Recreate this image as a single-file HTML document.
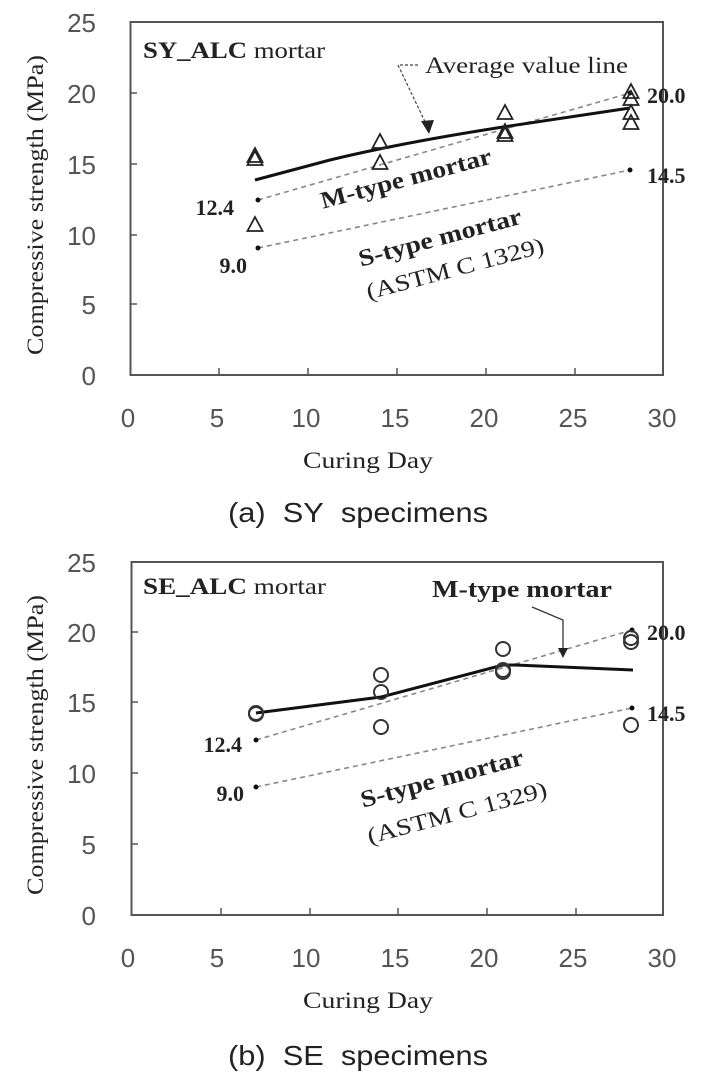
<!DOCTYPE html>
<html><head><meta charset="utf-8"><style>
body{margin:0;background:#fff}
svg{display:block}
.t{font-family:"Liberation Sans",sans-serif;fill:#555;font-size:26px}
.s{font-family:"Liberation Serif",serif;fill:#222}
.b{font-weight:bold}
</style></head><body>
<svg width="702" height="1082" viewBox="0 0 702 1082">
<defs>
<g id="tri"><path d="M0,-9 L7.5,5 L-7.5,5 Z" fill="none" stroke="#222" stroke-width="1.8"/></g>
<g id="cir"><circle r="7" fill="none" stroke="#333" stroke-width="2"/></g>
</defs>

<!-- ===== Chart A ===== -->
<g>
<rect x="130.5" y="22" width="532.5" height="353" fill="none" stroke="#555" stroke-width="2"/>
<g stroke="#555" stroke-width="1.5">
<line x1="130.5" y1="93" x2="137" y2="93"/><line x1="130.5" y1="164" x2="137" y2="164"/>
<line x1="130.5" y1="235" x2="137" y2="235"/><line x1="130.5" y1="304" x2="137" y2="304"/>
<line x1="219" y1="375" x2="219" y2="368"/><line x1="308" y1="375" x2="308" y2="368"/>
<line x1="397" y1="375" x2="397" y2="368"/><line x1="486" y1="375" x2="486" y2="368"/>
<line x1="575" y1="375" x2="575" y2="368"/>
</g>
<g class="t" text-anchor="end">
<text x="96" y="32">25</text><text x="96" y="103">20</text><text x="96" y="174">15</text>
<text x="96" y="245">10</text><text x="96" y="314">5</text><text x="96" y="385">0</text>
</g>
<g class="t" text-anchor="middle">
<text x="128" y="427">0</text><text x="217" y="427">5</text><text x="306" y="427">10</text>
<text x="395" y="427">15</text><text x="484" y="427">20</text><text x="573" y="427">25</text><text x="662" y="427">30</text>
</g>
<text class="s" x="303" y="468" font-size="23" textLength="130" lengthAdjust="spacingAndGlyphs">Curing Day</text>
<text class="s" transform="translate(43,205) rotate(-90)" font-size="23" text-anchor="middle" textLength="300" lengthAdjust="spacingAndGlyphs">Compressive strength (MPa)</text>
<text x="228" y="522" textLength="260" lengthAdjust="spacingAndGlyphs" style="font-family:'Liberation Sans',sans-serif;font-size:28px;fill:#222">(a)&#160; SY&#160; specimens</text>

<g stroke="#888" stroke-width="1.6" stroke-dasharray="5,4">
<line x1="258" y1="200" x2="630" y2="93"/><line x1="258" y1="248" x2="630" y2="170"/>
</g>
<g fill="#111"><circle cx="258" cy="200" r="2.5"/><circle cx="258" cy="248" r="2.5"/><circle cx="630" cy="93" r="2.5"/><circle cx="630" cy="170" r="2.5"/></g>
<path d="M255,180 L330,160 Q400,143 503,127 L630,108" fill="none" stroke="#111" stroke-width="3"/>
<use href="#tri" x="255" y="160"/><use href="#tri" x="255" y="157"/><use href="#tri" x="255" y="226"/>
<use href="#tri" x="380" y="143"/><use href="#tri" x="380" y="164"/>
<use href="#tri" x="505" y="114"/><use href="#tri" x="505" y="133"/><use href="#tri" x="505" y="136"/>
<use href="#tri" x="631" y="93"/><use href="#tri" x="631" y="100"/><use href="#tri" x="631" y="114"/><use href="#tri" x="631" y="124"/>
<text class="s" x="143" y="58" font-size="23" textLength="182" lengthAdjust="spacingAndGlyphs"><tspan class="b">SY_ALC</tspan> mortar</text>
<text class="s" x="425" y="73" font-size="23" textLength="203" lengthAdjust="spacingAndGlyphs">Average value line</text>
<path d="M418,65 L398,65 L428,128" fill="none" stroke="#444" stroke-width="1.2" stroke-dasharray="3,2"/>
<path d="M429,134 L421,121 L434,120 Z" fill="#222"/>
<text class="s b" x="234" y="215" font-size="22" text-anchor="end">12.4</text>
<text class="s b" x="247" y="273" font-size="22" text-anchor="end">9.0</text>
<text class="s b" x="647" y="103" font-size="22">20.0</text>
<text class="s b" x="647" y="183" font-size="22">14.5</text>
<text class="s b" transform="translate(408,186) rotate(-15)" font-size="24" text-anchor="middle" textLength="176" lengthAdjust="spacingAndGlyphs">M-type mortar</text>
<text class="s b" transform="translate(442,245) rotate(-15)" font-size="24" text-anchor="middle" textLength="168" lengthAdjust="spacingAndGlyphs">S-type mortar</text>
<text class="s" transform="translate(457,276) rotate(-15)" font-size="23" text-anchor="middle" fill="#444" textLength="183" lengthAdjust="spacingAndGlyphs">(ASTM C 1329)</text>
</g>

<!-- ===== Chart B ===== -->
<g>
<rect x="131.5" y="562" width="531.5" height="353" fill="none" stroke="#555" stroke-width="2"/>
<g stroke="#555" stroke-width="1.5">
<line x1="131.5" y1="632" x2="138" y2="632"/><line x1="131.5" y1="702" x2="138" y2="702"/>
<line x1="131.5" y1="773" x2="138" y2="773"/><line x1="131.5" y1="844" x2="138" y2="844"/>
<line x1="221" y1="915" x2="221" y2="908"/><line x1="310" y1="915" x2="310" y2="908"/>
<line x1="398" y1="915" x2="398" y2="908"/><line x1="487" y1="915" x2="487" y2="908"/>
<line x1="576" y1="915" x2="576" y2="908"/>
</g>
<g class="t" text-anchor="end">
<text x="96" y="572">25</text><text x="96" y="642">20</text><text x="96" y="712">15</text>
<text x="96" y="783">10</text><text x="96" y="854">5</text><text x="96" y="925">0</text>
</g>
<g class="t" text-anchor="middle">
<text x="128" y="967">0</text><text x="217" y="967">5</text><text x="306" y="967">10</text>
<text x="395" y="967">15</text><text x="484" y="967">20</text><text x="573" y="967">25</text><text x="662" y="967">30</text>
</g>
<text class="s" x="303" y="1008" font-size="23" textLength="130" lengthAdjust="spacingAndGlyphs">Curing Day</text>
<text class="s" transform="translate(43,745) rotate(-90)" font-size="23" text-anchor="middle" textLength="300" lengthAdjust="spacingAndGlyphs">Compressive strength (MPa)</text>
<text x="228" y="1065" textLength="260" lengthAdjust="spacingAndGlyphs" style="font-family:'Liberation Sans',sans-serif;font-size:28px;fill:#222">(b)&#160; SE&#160; specimens</text>

<g stroke="#888" stroke-width="1.6" stroke-dasharray="5,4">
<line x1="256" y1="740" x2="632" y2="630"/><line x1="256" y1="787" x2="632" y2="708"/>
</g>
<g fill="#111"><circle cx="256" cy="740" r="2.5"/><circle cx="256" cy="787" r="2.5"/><circle cx="632" cy="630" r="2.5"/><circle cx="632" cy="708" r="2.5"/></g>
<path d="M256,713 L381,697 L503,665 L515,665 L633,670" fill="none" stroke="#111" stroke-width="3"/>
<use href="#cir" x="256" y="714"/><use href="#cir" x="256" y="713"/>
<use href="#cir" x="381" y="675"/><use href="#cir" x="381" y="692"/><use href="#cir" x="381" y="727"/>
<use href="#cir" x="503" y="649"/><use href="#cir" x="503" y="670"/><use href="#cir" x="503" y="672"/>
<use href="#cir" x="631" y="638"/><use href="#cir" x="631" y="642"/><use href="#cir" x="631" y="725"/>
<text class="s" x="143" y="594" font-size="23" textLength="183" lengthAdjust="spacingAndGlyphs"><tspan class="b">SE_ALC</tspan> mortar</text>
<text class="s b" x="432" y="597" font-size="24" textLength="180" lengthAdjust="spacingAndGlyphs">M-type mortar</text>
<path d="M532,607 L563,620 L563,650" fill="none" stroke="#333" stroke-width="1.3"/>
<path d="M563,658 L558,648 L568,648 Z" fill="#222"/>
<text class="s b" x="242" y="752" font-size="22" text-anchor="end">12.4</text>
<text class="s b" x="244" y="801" font-size="22" text-anchor="end">9.0</text>
<text class="s b" x="647" y="640" font-size="22">20.0</text>
<text class="s b" x="647" y="721" font-size="22">14.5</text>
<text class="s b" transform="translate(444,786) rotate(-15)" font-size="24" text-anchor="middle" textLength="168" lengthAdjust="spacingAndGlyphs">S-type mortar</text>
<text class="s" transform="translate(459,820) rotate(-15)" font-size="23" text-anchor="middle" fill="#444" textLength="185" lengthAdjust="spacingAndGlyphs">(ASTM C 1329)</text>
</g>
</svg>
</body></html>
